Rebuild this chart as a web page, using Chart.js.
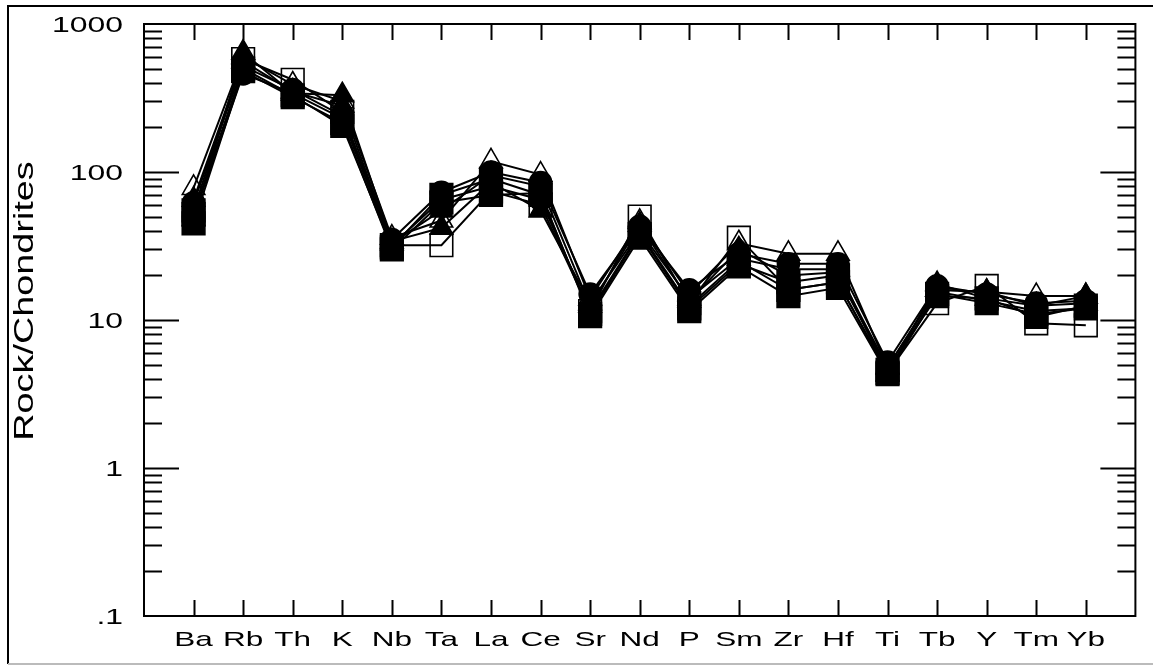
<!DOCTYPE html>
<html>
<head>
<meta charset="utf-8">
<script src="https://cdn.jsdelivr.net/npm/chart.js@4.4.1/dist/chart.umd.min.js"></script>
<style>
  html, body { margin: 0; padding: 0; background: #fff; }
  #wrap { width: 1153px; height: 666px; }
</style>
</head>
<body>
<div id="wrap"><canvas id="spider"></canvas></div>
<script>
// elements, normalised to chondrite
const elements = ['Ba', 'Rb', 'Th', 'K', 'Nb', 'Ta', 'La', 'Ce', 'Sr', 'Nd', 'P', 'Sm', 'Zr', 'Hf', 'Ti', 'Tb', 'Y', 'Tm', 'Yb'];
const yTickValues = [0.1, 1, 10, 100, 1000];
const yTickLabels = ['.1', '1', '10', '100', '1000'];
const yTitle = 'Rock/Chondrites';

// samples
const filledTriA  = [48, 640, 340, 330, 34, 42, 85, 55, 13, 40, 14, 26, 22, 22, 4.3, 17.5, 14, 12.5, 14.5];
const filledSqA   = [45, 480, 320, 215, 30, 62, 70, 72, 10.6, 36, 11.5, 23, 14.5, 16.5, 4.3, 15, 13, 11, 12];
const filledCircA = [62, 520, 360, 240, 35, 73, 100, 85, 15, 43, 16, 28, 24, 24, 5.2, 17, 15, 13, 13.5];
const filledSqB   = [52, 500, 330, 205, 31, 70, 90, 70, 11, 38, 12, 24, 18, 20, 4.6, 14.5, 14, 10.5, 12.5];
const filledTriB  = [65, 560, 350, 280, 33, 55, 95, 80, 12.5, 44, 13.5, 30, 20, 21, 4.8, 16, 15.5, 12.5, 13];
const filledCircB = [50, 460, 340, 230, 32, 65, 80, 65, 11.5, 39, 12.5, 25, 16, 18, 4.4, 15.5, 13.5, 11.5, 12];
const openTri     = [78, 600, 390, 300, 36, 47, 118, 96, 14, 46, 15, 33, 28, 28, 4.8, 16, 15.5, 14.5, 14.5];
const openSq      = [55, 580, 420, 255, 32, 32, 74, 60, 11.5, 50, 13, 36, 16, 18, 4.4, 13, 17, 9.5, 9.2];

const FONT = "'Liberation Sans', Arial, sans-serif";

function toPoints(vals) {
    return vals.map((v, i) => ({ x: i + 1, y: v }));
}

function series(vals, style, filled) {
    const r = style === 'rect' ? 16 : (style === 'triangle' ? 13 : 11);
    return {
        data: toPoints(vals),
        borderColor: '#000',
        borderWidth: 2,
        pointStyle: style,
        pointRadius: r,
        pointHoverRadius: r,
        pointBorderWidth: 1.6,
        pointBorderColor: '#000',
        pointBackgroundColor: filled ? '#000' : 'rgba(0,0,0,0)',
        tension: 0,
        fill: false
    };
}

// the scanned figure has its lettering stretched sideways
function wideText(ctx, text, x, y, sx, sy, align) {
    ctx.save();
    ctx.translate(x, y);
    ctx.scale(sx, sy);
    ctx.textAlign = align;
    ctx.textBaseline = 'alphabetic';
    ctx.fillText(text, 0, 0);
    ctx.restore();
}

// frame, inward ticks, labels, outer box
const framePlugin = {
    id: 'framePlugin',
    beforeDraw(chart) {
        const ctx = chart.ctx;
        ctx.save();
        ctx.fillStyle = '#fff';
        ctx.fillRect(0, 0, chart.width, chart.height);
        ctx.restore();
    },
    afterDraw(chart) {
        const ctx = chart.ctx;
        const a = chart.chartArea;
        const xs = chart.scales.x, ys = chart.scales.y;
        ctx.save();
        ctx.strokeStyle = '#000';
        ctx.lineWidth = 2;
        ctx.strokeRect(a.left, a.top, a.right - a.left, a.bottom - a.top);

        ctx.beginPath();
        // log ticks on left and right
        for (let p = -1; p < 3; p++) {
            for (let m = 1; m <= 9; m++) {
                if (m === 1 && p === -1) continue;
                const y = Math.round(ys.getPixelForValue(m * Math.pow(10, p))) + 0.5;
                const len = m === 1 ? 35 : 18;
                ctx.moveTo(a.left, y); ctx.lineTo(a.left + len, y);
                ctx.moveTo(a.right, y); ctx.lineTo(a.right - len, y);
            }
        }
        // category ticks top and bottom
        elements.forEach((el, i) => {
            const x = Math.round(xs.getPixelForValue(i + 1)) + 0.5;
            ctx.moveTo(x, a.top); ctx.lineTo(x, a.top + 16);
            ctx.moveTo(x, a.bottom); ctx.lineTo(x, a.bottom - 16);
        });
        ctx.stroke();

        // labels
        ctx.fillStyle = '#000';
        ctx.font = '21px ' + FONT;
        elements.forEach((el, i) => {
            wideText(ctx, el, xs.getPixelForValue(i + 1), a.bottom + 30, 1.5, 1, 'center');
        });
        ctx.font = '22px ' + FONT;
        yTickValues.forEach((v, i) => {
            wideText(ctx, yTickLabels[i], a.left - 21, ys.getPixelForValue(v) + 8, 1.45, 1, 'right');
        });
        ctx.save();
        ctx.font = '27px ' + FONT;
        ctx.translate(33, (a.top + a.bottom) / 2 - 19);
        ctx.rotate(-Math.PI / 2);
        wideText(ctx, yTitle, 0, 0, 1.4, 1, 'center');
        ctx.restore();

        // outer picture border (left and top dark, bottom grey)
        ctx.lineWidth = 2;
        ctx.beginPath();
        ctx.moveTo(8, 664); ctx.lineTo(8, 6); ctx.lineTo(1153, 6);
        ctx.stroke();
        ctx.strokeStyle = '#bbb';
        ctx.beginPath();
        ctx.moveTo(8, 664); ctx.lineTo(1153, 664);
        ctx.stroke();
        ctx.restore();
    }
};

const ctx = document.getElementById('spider').getContext('2d');
new Chart(ctx, {
    type: 'line',
    data: {
        datasets: [
            series(filledCircA, 'circle', true),
            series(filledSqA, 'rect', true),
            series(filledTriA, 'triangle', true),
            series(filledSqB, 'rect', true),
            series(filledTriB, 'triangle', true),
            series(filledCircB, 'circle', true),
            series(openTri, 'triangle', false),
            series(openSq, 'rect', false)
        ]
    },
    options: {
        responsive: true,
        maintainAspectRatio: false,
        animation: false,
        layout: { padding: { left: 144, top: 24, right: 10, bottom: 50 } },
        plugins: {
            legend: { display: false },
            tooltip: { enabled: false }
        },
        scales: {
            x: { type: 'linear', display: false, min: 0, max: 20 },
            y: { type: 'logarithmic', display: false, min: 0.1, max: 1000 }
        }
    },
    plugins: [framePlugin]
});
</script>
</body>
</html>
